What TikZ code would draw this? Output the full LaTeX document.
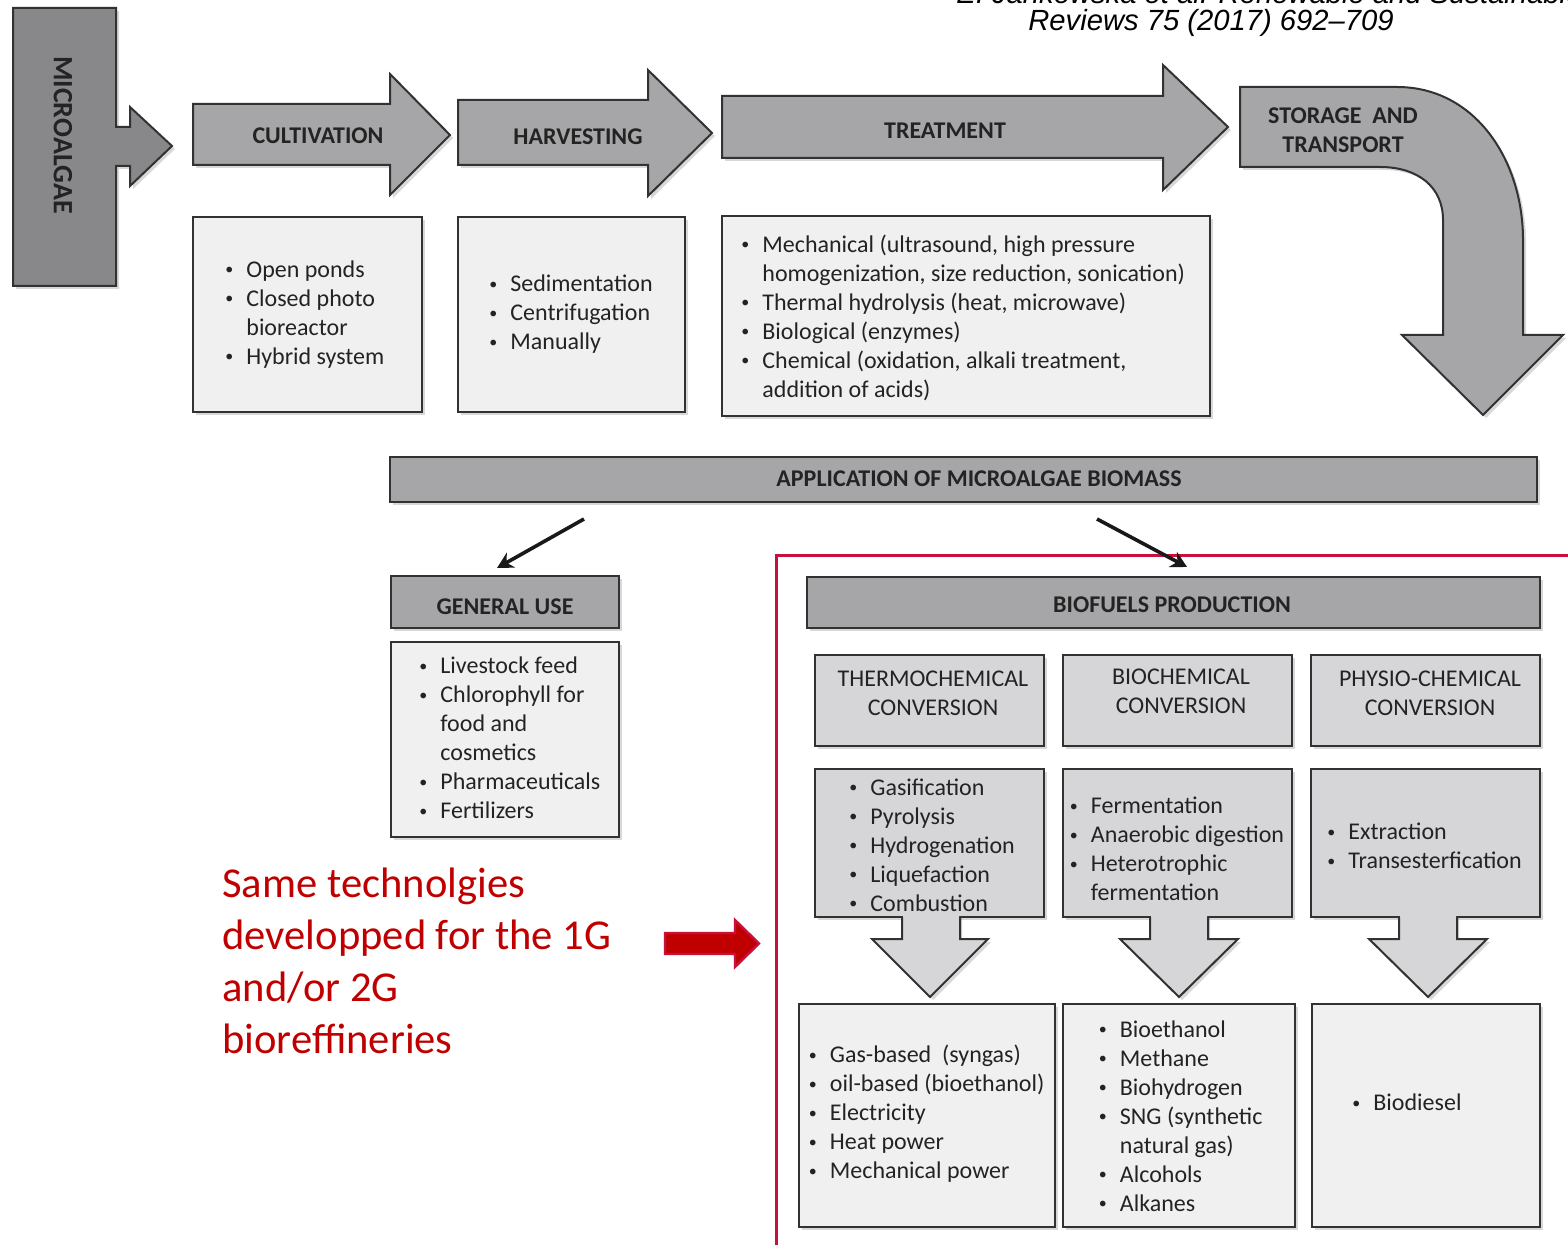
\documentclass[tikz,border=0pt]{standalone}
\usepackage{fontspec}
\setmainfont{Carlito}
\newfontfamily\citefont{Liberation Sans}
\usetikzlibrary{arrows.meta,shadows}
\definecolor{midgray}{RGB}{166,166,168}
\definecolor{darkgray2}{RGB}{136,136,138}
\definecolor{lightgray2}{RGB}{214,214,216}
\definecolor{palegray}{RGB}{240,240,240}
\definecolor{edgegray}{RGB}{50,50,50}
\definecolor{txtgray}{RGB}{35,35,35}
\definecolor{framered}{RGB}{200,16,60}
\definecolor{textred}{RGB}{192,0,0}
\newcommand{\bitem}{\makebox[11.5pt][l]{\hspace*{1pt}\raisebox{1.2pt}{\fontsize{8}{8}\selectfont •}}}
\newcommand{\cont}{\hspace*{11.5pt}}
\tikzset{
  ln/.style={draw=edgegray, line width=1pt},
  shad/.style={drop shadow={shadow xshift=1.5pt, shadow yshift=-1.5pt, opacity=0.25, fill=black!60}},
  blockarrow/.style={ln, fill=midgray, shad},
  hdrbox/.style={rectangle, ln, fill=midgray, shad, inner sep=0},
  medbox/.style={rectangle, ln, fill=lightgray2, shad, inner sep=0},
  palebox/.style={rectangle, ln, fill=palegray, shad, inner sep=0},
  hdrtext/.style={font=\bfseries\fontsize{12}{14.5}\selectfont, text=txtgray, align=center, inner sep=0},
  convtext/.style={font=\fontsize{12}{14.5}\selectfont, text=txtgray, align=center, inner sep=0},
  listtext/.style={font=\fontsize{12}{14.5}\selectfont, text=txtgray, align=left, anchor=north west, inner sep=0},
  conn/.style={draw=black!90, line width=1.8pt, -{Stealth[length=8pt,width=8.5pt]}},
  downfill/.style={fill=lightgray2, shad},
}
\begin{document}
\begin{tikzpicture}[x=0.5pt,y=-0.5pt]
\useasboundingbox (0,0) rectangle (1568,1245);
\fill[white] (0,0) rectangle (1568,1245);

% citation
\node[font=\citefont\itshape\fontsize{14.6}{16}\selectfont, anchor=base west, inner sep=0] (cite1) at (956,4) {E. Jankowska et al. Renewable and Sustainable Energy};
\node[font=\citefont\itshape\fontsize{14.6}{16}\selectfont, anchor=base west, inner sep=0] (cite2) at (1028,31) {Reviews 75 (2017) 692–709};

% microalgae
\path[blockarrow, fill=darkgray2] (13,8) -- (116,8) -- (116,127) -- (130,127) -- (130,107) -- (172,146) -- (130,186) -- (130,166) -- (116,166) -- (116,286) -- (13,286) -- cycle;
\node[font=\bfseries\fontsize{14}{17}\selectfont, text=txtgray, rotate=-90, inner sep=0] (micro) at (63,135) {MICROALGAE};

% top process arrows
\path[blockarrow] (193,104) -- (390,104) -- (390,74) -- (450,135) -- (390,195) -- (390,165) -- (193,165) -- cycle;
\node[hdrtext] (cult) at (318,136) {CULTIVATION};
\path[blockarrow] (458,100) -- (648,100) -- (648,70) -- (712,133) -- (648,196) -- (648,165) -- (458,165) -- cycle;
\node[hdrtext] (harv) at (578,137) {HARVESTING};
\path[blockarrow] (722,96) -- (1163,96) -- (1163,65) -- (1228,127) -- (1163,190) -- (1163,158) -- (722,158) -- cycle;
\node[hdrtext] (treat) at (945,131) {TREATMENT};
\path[blockarrow] (1240,87) -- (1397,87) .. controls (1475,87) and (1523,160) .. (1523,240) -- (1523,335) -- (1563,335) -- (1483,415) -- (1402,335) -- (1443,335) -- (1443,220) .. controls (1443,187) and (1418,167) .. (1380,167) -- (1240,167) -- cycle;
\node[hdrtext] (stor) at (1343,130.5) {STORAGE\ \ AND\\TRANSPORT};

% top lists
\node[palebox, minimum width=114.5pt, minimum height=97.5pt] (cultbox) at (307.5,314.5) {};
\node[listtext] (cultlist) at (223,256.5) {\strut\bitem Open ponds\\ \bitem Closed photo\\ \cont bioreactor\\ \bitem Hybrid system};
\node[palebox, minimum width=113.5pt, minimum height=97.5pt] (harvbox) at (571.5,314.5) {};
\node[listtext] (harvlist) at (487,271) {\strut\bitem Sedimentation\\ \bitem Centrifugation\\ \bitem Manually};
\node[palebox, minimum width=244pt, minimum height=100pt] (treatbox) at (966,316) {};
\node[listtext] (treatlist) at (739,231.5) {\strut\bitem Mechanical (ultrasound, high pressure\\ \cont homogenization, size reduction, sonication)\\ \bitem Thermal hydrolysis (heat, microwave)\\ \bitem Biological (enzymes)\\ \bitem Chemical (oxidation, alkali treatment,\\ \cont addition of acids)};

% application bar
\node[hdrbox, minimum width=573.5pt, minimum height=22.5pt] (appbar) at (963.5,479.5) {};
\node[hdrtext] (apptext) at (979,479) {APPLICATION OF MICROALGAE BIOMASS};

% general use
\node[hdrbox, minimum width=114pt, minimum height=26pt] (genhead) at (505,602) {};
\node[hdrtext] (gentext) at (505,607) {GENERAL USE};
\node[palebox, minimum width=114pt, minimum height=97.5pt] (genbox) at (505,739.5) {};
\node[listtext] (genlist) at (417,653) {\strut\bitem Livestock feed\\ \bitem Chlorophyll for\\ \cont food and\\ \cont cosmetics\\ \bitem Pharmaceuticals\\ \bitem Fertilizers};

% red frame
\draw[framered, line width=1.5pt] (1600,556) -- (776,556) -- (776,1280);

% biofuels
\node[hdrbox, minimum width=366.5pt, minimum height=25.5pt] (biohead) at (1173.5,602.5) {};
\node[hdrtext] (biotext) at (1172,605) {BIOFUELS PRODUCTION};

% connectors
\coordinate (c1s) at (584,519);
\coordinate (c1e) at (497,568);
\coordinate (c2s) at (1097,519);
\coordinate (c2e) at (1187,567);
\draw[conn] (c1s) -- (c1e);
\draw[conn] (c2s) -- (c2e);

% conversion headers
\node[medbox, minimum width=114.5pt, minimum height=45.5pt] (convth) at (929.5,700.5) {};
\node[convtext] (convthtext) at (933,693.5) {THERMOCHEMICAL\\CONVERSION};
\node[medbox, minimum width=114.5pt, minimum height=45.5pt] (convbi) at (1177.5,700.5) {};
\node[convtext] (convbitext) at (1181,691.5) {BIOCHEMICAL\\CONVERSION};
\node[medbox, minimum width=114.5pt, minimum height=45.5pt] (convph) at (1425.5,700.5) {};
\node[convtext] (convphtext) at (1430,693) {PHYSIO-CHEMICAL\\CONVERSION};

% method boxes with down arrows
\node[medbox, minimum width=114.5pt, minimum height=74pt] (methth) at (929.5,843) {};
\path[downfill] (903,914) -- (903,939) -- (872,939) -- (930,997) -- (988,939) -- (959,939) -- (959,914) -- cycle;
\draw[ln] (902,917) -- (902,939) -- (872,939) -- (930,997) -- (988,939) -- (960,939) -- (960,917);
\node[listtext] (meththlist) at (847,774.5) {\strut\bitem Gasification\\ \bitem Pyrolysis\\ \bitem Hydrogenation\\ \bitem Liquefaction\\ \bitem Combustion};

\node[medbox, minimum width=114.5pt, minimum height=74pt] (methbi) at (1177.5,843) {};
\path[downfill] (1151,914) -- (1151,939) -- (1120,939) -- (1179,997) -- (1238,939) -- (1207,939) -- (1207,914) -- cycle;
\draw[ln] (1150,917) -- (1150,939) -- (1120,939) -- (1179,997) -- (1238,939) -- (1208,939) -- (1208,917);
\node[listtext] (methbilist) at (1067.5,793) {\strut\bitem Fermentation\\ \bitem Anaerobic digestion\\ \bitem Heterotrophic\\ \cont fermentation};

\node[medbox, minimum width=114.5pt, minimum height=74pt] (methph) at (1425.5,843) {};
\path[downfill] (1400,914) -- (1400,939) -- (1369,939) -- (1428,997) -- (1487,939) -- (1456,939) -- (1456,914) -- cycle;
\draw[ln] (1399,917) -- (1399,939) -- (1369,939) -- (1428,997) -- (1487,939) -- (1457,939) -- (1457,917);
\node[listtext] (methphlist) at (1325,819) {\strut\bitem Extraction\\ \bitem Transesterfication};

% output boxes
\node[palebox, minimum width=128pt, minimum height=111.5pt] (outth) at (927,1115.5) {};
\node[listtext] (outthlist) at (806.5,1042) {\strut\bitem Gas-based\ \ (syngas)\\ \bitem oil-based (bioethanol)\\ \bitem Electricity\\ \bitem Heat power\\ \bitem Mechanical power};
\node[palebox, minimum width=116pt, minimum height=111.5pt] (outbi) at (1179,1115.5) {};
\node[listtext] (outbilist) at (1096.5,1016.5) {\strut\bitem Bioethanol\\ \bitem Methane\\ \bitem Biohydrogen\\ \bitem SNG (synthetic\\ \cont natural gas)\\ \bitem Alcohols\\ \bitem Alkanes};
\node[palebox, minimum width=114pt, minimum height=111.5pt] (outph) at (1426,1115.5) {};
\node[listtext] (outphlist) at (1350,1090) {\strut\bitem Biodiesel};

% red annotation
\node[font=\fontsize{21.3}{25.9}\selectfont, text=textred, align=left, anchor=north west, inner sep=0] (note) at (222,861) {\strut Same technolgies\\developped for the 1G\\and/or 2G\\bioreffineries};
\path[fill=textred, draw=framered, line width=1.2pt] (665,933) -- (735,933) -- (735,920) -- (759,943.5) -- (735,967) -- (735,954) -- (665,954) -- cycle;
\end{tikzpicture}
\end{document}
